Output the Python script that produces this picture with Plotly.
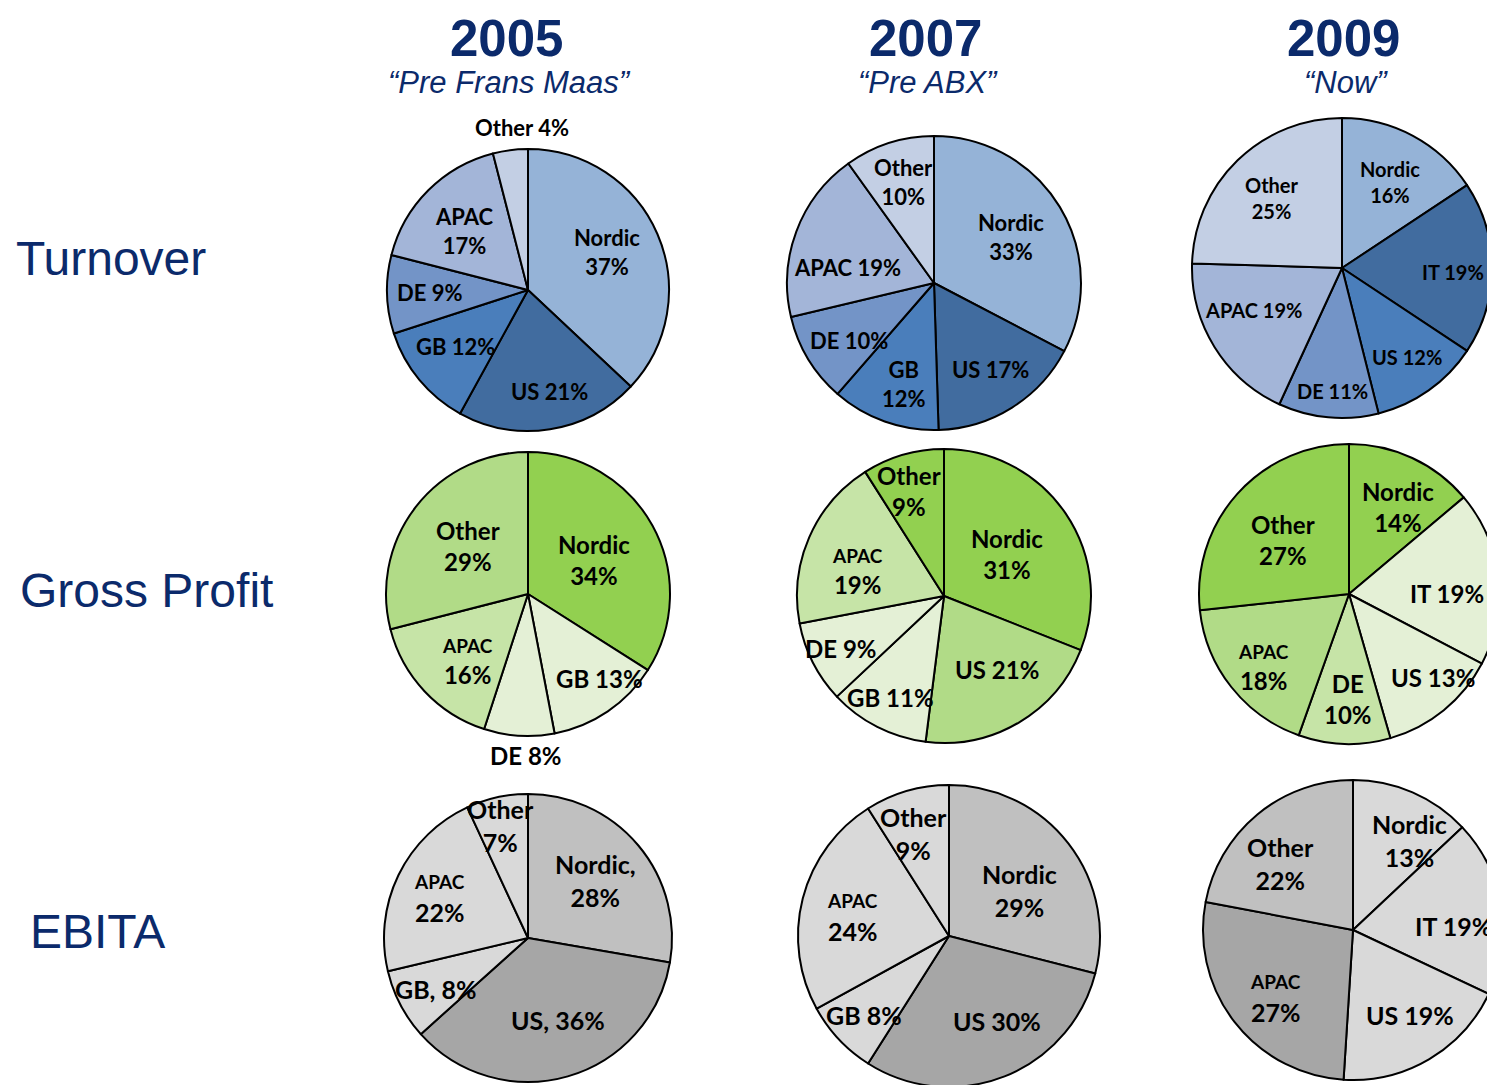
import plotly.graph_objects as go

W, H = 1495, 1085
OX, OY = 8, 8  # page body margin: figure origin sits at (8, 8) in the page
NAVY = "#0b2a6b"

# ---------------- data ----------------
years = ["2005", "2007", "2009"]
subtitles = ["\u201cPre Frans Maas\u201d", "\u201cPre ABX\u201d", "\u201cNow\u201d"]
row_names = ["Turnover", "Gross Profit", "EBITA"]

t2005_regions = ["Nordic", "US", "GB", "DE", "APAC", "Other"]
t2005_values = [37, 21, 12, 9, 17, 4]
t2007_regions = ["Nordic", "US", "GB", "DE", "APAC", "Other"]
t2007_values = [33, 17, 12, 10, 19, 10]
t2009_regions = ["Nordic", "IT", "US", "DE", "APAC", "Other"]
t2009_values = [16, 19, 12, 11, 19, 25]

g2005_regions = ["Nordic", "GB", "DE", "APAC", "Other"]
g2005_values = [34, 13, 8, 16, 29]
g2007_regions = ["Nordic", "US", "GB", "DE", "APAC", "Other"]
g2007_values = [31, 21, 11, 9, 19, 9]
g2009_regions = ["Nordic", "IT", "US", "DE", "APAC", "Other"]
g2009_values = [14, 19, 13, 10, 18, 27]

e2005_regions = ["Nordic", "US", "GB", "APAC", "Other"]
e2005_values = [28, 36, 8, 22, 7]
e2007_regions = ["Nordic", "US", "GB", "APAC", "Other"]
e2007_values = [29, 30, 8, 24, 9]
e2009_regions = ["Nordic", "IT", "US", "APAC", "Other"]
e2009_values = [13, 19, 19, 27, 22]

# ---------------- styles ----------------
B_NOR, B_DK, B_MID, B_DE, B_APAC, B_OTH = "#95b3d7", "#416c9f", "#4a7ebb", "#7394c7", "#a3b5d8", "#c3cfe4"
G1, G2, G3, G4 = "#92d050", "#b1db87", "#c6e4a7", "#e4f0d6"
K1, K2, K3 = "#a6a6a6", "#c0c0c0", "#d9d9d9"

# each pie: center (page px), radius px, colours, label separators, label offsets (px from center), font size
pies = [
    dict(reg=t2005_regions, val=t2005_values, c=(528, 290), r=141,
         col=[B_NOR, B_DK, B_MID, B_DE, B_APAC, B_OTH],
         sep=["<br>", " ", " ", " ", "<br>", " "],
         off=[(79, -38), (21, 101), (-72, 57), (-98, 3), (-64, -59), (-6, -162)], fs=22, small=[]),
    dict(reg=t2007_regions, val=t2007_values, c=(934, 283), r=147,
         col=[B_NOR, B_DK, B_MID, B_DE, B_APAC, B_OTH],
         sep=["<br>", " ", "<br>", " ", " ", "<br>"],
         off=[(77, -46), (57, 86), (-30, 101), (-85, 57), (-86, -15), (-30, -101)], fs=22, small=[]),
    dict(reg=t2009_regions, val=t2009_values, c=(1342, 268), r=150,
         col=[B_NOR, B_DK, B_MID, B_DE, B_APAC, B_OTH],
         sep=["<br>", " ", " ", " ", " ", "<br>"],
         off=[(48, -86), (111, 4), (65, 89), (-10, 123), (-89, 42), (-70, -70)], fs=20, small=[]),
    dict(reg=g2005_regions, val=g2005_values, c=(528, 594), r=142,
         col=[G1, G4, G4, G3, G2],
         sep=["<br>", " ", " ", "<br>", "<br>"],
         off=[(66, -34), (71, 84), (-3, 161), (-61, 67), (-60, -48)], fs=24, small=[3]),
    dict(reg=g2007_regions, val=g2007_values, c=(944, 596), r=147,
         col=[G1, G2, G4, G4, G3, G1],
         sep=["<br>", " ", " ", " ", "<br>", "<br>"],
         off=[(63, -42), (53, 73), (-54, 101), (-104, 52), (-87, -25), (-35, -105)], fs=24, small=[4]),
    dict(reg=g2009_regions, val=g2009_values, c=(1349, 594), r=150,
         col=[G1, G4, G4, G3, G2, G1],
         sep=["<br>", " ", " ", "<br>", "<br>", "<br>"],
         off=[(49, -87), (98, -1), (84, 83), (-1, 105), (-86, 73), (-66, -54)], fs=24, small=[4]),
    dict(reg=e2005_regions, val=e2005_values, c=(528, 938), r=144,
         col=[K2, K1, K3, K3, K3],
         sep=[",<br>", ", ", ", ", "<br>", "<br>"],
         off=[(67, -58), (30, 82), (-92, 51), (-89, -40), (-28, -113)], fs=25, small=[3]),
    dict(reg=e2007_regions, val=e2007_values, c=(949, 936), r=151,
         col=[K2, K1, K3, K3, K3],
         sep=["<br>", " ", " ", "<br>", "<br>"],
         off=[(70, -46), (48, 85), (-85, 79), (-97, -19), (-36, -102)], fs=25, small=[3]),
    dict(reg=e2009_regions, val=e2009_values, c=(1353, 930), r=150,
         col=[K3, K3, K3, K1, K2],
         sep=["<br>", " ", " ", "<br>", "<br>"],
         off=[(56, -90), (100, -4), (57, 85), (-78, 68), (-73, -67)], fs=25, small=[3]),
]
SMALL_FS = 19


def fx(px):
    return (px - OX) / W


def fy(py):
    return 1 - (py - OY) / H


fig = go.Figure()
annotations = []
LABEL_FONT = "Lato, 'Noto Sans', sans-serif"

for p in pies:
    cx, cy = p["c"]
    r = p["r"]
    dom_x = [max(0, fx(cx - r)), min(1, fx(cx + r))]
    dom_y = [max(0, fy(cy + r)), min(1, fy(cy - r))]
    fig.add_trace(go.Pie(
        labels=p["reg"], values=p["val"], sort=False, direction="clockwise", rotation=0,
        marker=dict(colors=p["col"], line=dict(color="#000000", width=2)),
        textinfo="none", hoverinfo="label+percent", showlegend=False,
        domain=dict(x=dom_x, y=dom_y),
    ))
    for i, (reg, v) in enumerate(zip(p["reg"], p["val"])):
        dx, dy = p["off"][i]
        name = reg
        if i in p["small"]:
            name = f"<span style='font-size:{SMALL_FS}px'>{reg}</span>"
        txt = f"<b>{name}{p['sep'][i]}{v}%</b>"
        annotations.append(dict(
            x=fx(cx + dx), y=fy(cy + dy), xref="paper", yref="paper",
            text=txt, showarrow=False, xanchor="center", yanchor="middle",
            font=dict(family=LABEL_FONT, size=p["fs"], color="#000000"),
            align="center",
        ))

# column titles
title_x = [506, 925, 1343]
for i, (yr, sub) in enumerate(zip(years, subtitles)):
    annotations.append(dict(x=fx(title_x[i]), y=1, xref="paper", yref="paper",
                            text=f"<b>{yr}</b>", showarrow=False, xanchor="center", yanchor="top",
                            font=dict(family="Liberation Sans, Arial", size=51, color=NAVY)))
    annotations.append(dict(x=fx(title_x[i] + 3), y=fy(82), xref="paper", yref="paper",
                            text=f"<i>{sub}</i>", showarrow=False, xanchor="center", yanchor="middle",
                            font=dict(family="Liberation Sans, Arial", size=31, color=NAVY)))

# row labels
row_pos = [(16, 258), (20, 590), (30, 931)]
for name, (x, y) in zip(row_names, row_pos):
    annotations.append(dict(x=fx(x - 2), y=fy(y), xref="paper", yref="paper",
                            text=name, showarrow=False, xanchor="left", yanchor="middle",
                            font=dict(family="Liberation Sans, Arial", size=48, color=NAVY)))

fig.update_layout(
    width=W, height=H, autosize=False,
    margin=dict(l=0, r=0, t=0, b=0),
    paper_bgcolor="white", plot_bgcolor="white",
    annotations=annotations,
)

fig.write_html("out.html")
